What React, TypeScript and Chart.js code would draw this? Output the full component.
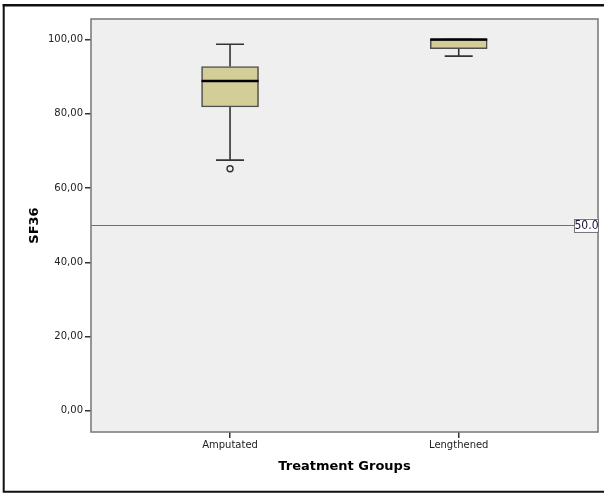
import React, { useEffect, useRef } from "react";
import { Chart, registerables } from "chart.js";

Chart.register(...registerables);

const categories = ["Amputated", "Lengthened"];
const whiskerLow = [67.5, 95.5];
const q1 = [81.8, 97.5];
const median = [88.8, 100.0];
const q3 = [92.7, 100.0];
const whiskerHigh = [98.7, 100.0];
const outliers = [{ group: 0, value: 65.2 }];
const yTicks = [0, 20, 40, 60, 80, 100];
const referenceValue = 50;
const referenceLabel = "50.0";
const xTitle = "Treatment Groups";
const yTitle = "SF36";

const FONT = '"DejaVu Sans", "Liberation Sans", sans-serif';

const extrasPlugin = {
  id: "boxExtras",
  beforeDraw(chart: any) {
    const { ctx, chartArea: a } = chart;
    ctx.save();
    ctx.fillStyle = "#ffffff";
    ctx.fillRect(0, 0, chart.width, chart.height);
    ctx.fillStyle = "#efefef";
    ctx.fillRect(a.left, a.top, a.right - a.left, a.bottom - a.top);
    ctx.restore();
  },
  beforeDatasetsDraw(chart: any) {
    const { ctx, chartArea: a, scales } = chart;
    const xs = scales.x;
    const ys = scales.y;
    ctx.save();
    // reference line
    const ry = Math.round(ys.getPixelForValue(referenceValue)) + 0.5;
    ctx.strokeStyle = "#707070";
    ctx.lineWidth = 1.2;
    ctx.beginPath();
    ctx.moveTo(a.left, ry);
    ctx.lineTo(a.right, ry);
    ctx.stroke();
    // whiskers
    ctx.strokeStyle = "#333333";
    ctx.lineWidth = 1.6;
    const cap = 14;
    categories.forEach((_, i) => {
      const x = xs.getPixelForValue(i);
      const yLo = ys.getPixelForValue(whiskerLow[i]);
      const yHi = ys.getPixelForValue(whiskerHigh[i]);
      const yQ1 = ys.getPixelForValue(q1[i]);
      const yQ3 = ys.getPixelForValue(q3[i]);
      ctx.beginPath();
      ctx.moveTo(x, yQ3);
      ctx.lineTo(x, yHi);
      ctx.moveTo(x, yQ1);
      ctx.lineTo(x, yLo);
      ctx.moveTo(x - cap, yHi);
      ctx.lineTo(x + cap, yHi);
      ctx.moveTo(x - cap, yLo);
      ctx.lineTo(x + cap, yLo);
      ctx.stroke();
    });
    ctx.restore();
  },
  afterDatasetsDraw(chart: any) {
    const { ctx, scales } = chart;
    const xs = scales.x;
    const ys = scales.y;
    const meta = chart.getDatasetMeta(0);
    ctx.save();
    ctx.strokeStyle = "#000000";
    ctx.lineWidth = 2.4;
    categories.forEach((_, i) => {
      const bar = meta.data[i];
      const half = bar ? bar.width / 2 : 28;
      const x = xs.getPixelForValue(i);
      const y = ys.getPixelForValue(median[i]);
      ctx.beginPath();
      ctx.moveTo(x - half, y);
      ctx.lineTo(x + half, y);
      ctx.stroke();
    });
    ctx.restore();
  },
  afterDraw(chart: any) {
    const { ctx, chartArea: a, scales } = chart;
    const ys = scales.y;
    ctx.save();
    // plot border
    ctx.strokeStyle = "#7d7d7d";
    ctx.lineWidth = 1.6;
    ctx.strokeRect(a.left, a.top, a.right - a.left, a.bottom - a.top);
    // reference label
    const ry = ys.getPixelForValue(referenceValue);
    const bx = a.right - 24;
    const bw = 24;
    const bh = 13;
    ctx.fillStyle = "#ffffff";
    ctx.fillRect(bx, ry - bh / 2, bw, bh);
    ctx.strokeStyle = "#777777";
    ctx.lineWidth = 1;
    ctx.strokeRect(bx + 0.5, Math.round(ry - bh / 2) + 0.5, bw, bh);
    ctx.fillStyle = "#111133";
    ctx.font = '12px "DejaVu Sans Condensed", "DejaVu Sans", sans-serif';
    ctx.textAlign = "center";
    ctx.textBaseline = "middle";
    ctx.fillText(referenceLabel, bx + bw / 2 + 0.5, ry + 0.5);
    // titles
    ctx.fillStyle = "#000000";
    ctx.font = "bold 13px " + FONT;
    ctx.textAlign = "center";
    ctx.textBaseline = "middle";
    ctx.fillText(xTitle, (a.left + a.right) / 2, 467);
    ctx.translate(35, (a.top + a.bottom) / 2);
    ctx.rotate(-Math.PI / 2);
    ctx.fillText(yTitle, 0, 0);
    ctx.restore();
    // outer frame
    ctx.save();
    ctx.strokeStyle = "#111111";
    ctx.lineWidth = 2.5;
    ctx.beginPath();
    ctx.moveTo(2.7, 5.3);
    ctx.lineTo(chart.width, 5.3);
    ctx.stroke();
    ctx.lineWidth = 2;
    ctx.beginPath();
    ctx.moveTo(3.7, 4);
    ctx.lineTo(3.7, 492.7);
    ctx.moveTo(2.7, 491.7);
    ctx.lineTo(chart.width, 491.7);
    ctx.stroke();
    ctx.restore();
  },
};

export default function App() {
  const ref = useRef<HTMLCanvasElement | null>(null);
  useEffect(() => {
    if (!ref.current) return;
    const chart = new Chart(ref.current, {
      type: "bar",
      data: {
        datasets: [
          {
            type: "bar",
            data: categories.map((_, i) => ({ x: i, y: [q1[i], q3[i]] })) as any,
            backgroundColor: "#d3ce98",
            borderColor: "#505050",
            borderWidth: 1.6,
            borderSkipped: false,
            barThickness: 57,
          } as any,
          {
            type: "scatter",
            data: outliers.map((o) => ({ x: o.group, y: o.value })),
            pointStyle: "circle",
            pointRadius: 3,
            pointBorderWidth: 1.4,
            pointBorderColor: "#333333",
            pointBackgroundColor: "#efefef",
          } as any,
        ],
      },
      options: {
        animation: false,
        responsive: false,
        maintainAspectRatio: false,
        layout: { padding: { left: 0, top: 19, right: 6, bottom: 0 } },
        plugins: { legend: { display: false }, tooltip: { enabled: false } },
        scales: {
          x: {
            type: "linear",
            min: -0.608,
            max: 1.609,
            offset: false,
            afterBuildTicks: (s: any) => {
              s.ticks = categories.map((_, i) => ({ value: i }));
            },
            afterFit: (s: any) => {
              s.height = 61;
            },
            ticks: {
              autoSkip: false,
              maxRotation: 0,
              padding: 1,
              color: "#222222",
              font: { family: FONT, size: 10 },
              callback: (v: any) => categories[v] ?? "",
            },
            grid: {
              offset: false,
              drawOnChartArea: false,
              drawTicks: true,
              tickLength: 6,
              color: "#333333",
              lineWidth: 1.5,
            },
            border: { display: false },
          },
          y: {
            type: "linear",
            min: -5.7,
            max: 105.5,
            afterBuildTicks: (s: any) => {
              s.ticks = yTicks.map((v) => ({ value: v }));
            },
            afterFit: (s: any) => {
              s.width = 91;
            },
            ticks: {
              padding: 2,
              color: "#222222",
              font: { family: FONT, size: 10 },
              callback: (v: any) => Number(v).toFixed(2).replace(".", ","),
            },
            grid: {
              drawOnChartArea: false,
              drawTicks: true,
              tickLength: 6,
              color: "#333333",
              lineWidth: 1.5,
            },
            border: { display: false },
          },
        },
      } as any,
      plugins: [extrasPlugin],
    });
    return () => chart.destroy();
  }, []);
  return (
    <div style={{ position: "fixed", left: 0, top: 0, width: 604, height: 493, background: "#fff" }}>
      <canvas ref={ref} width={604} height={493} style={{ width: 604, height: 493, display: "block" }} />
    </div>
  );
}
